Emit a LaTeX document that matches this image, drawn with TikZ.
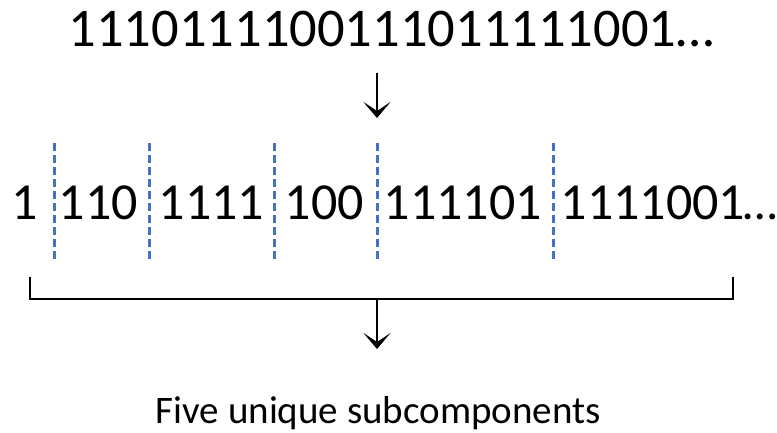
\documentclass[tikz,border=0pt]{standalone}
\usepackage{fontspec}
\setmainfont{Carlito}
\usetikzlibrary{arrows.meta}
\definecolor{dashblue}{HTML}{4472C4}
\begin{document}
\begin{tikzpicture}[x=1pt,y=-1pt,
  big/.style={inner sep=0pt,anchor=base west,font=\fontsize{52}{60}\selectfont},
  captext/.style={inner sep=0pt,anchor=base west,font=\fontsize{39}{45}\selectfont},
  sep/.style={draw=dashblue,line width=3pt,dash pattern=on 8pt off 4pt},
  brk/.style={draw=black,line width=2.5pt},
  arr/.style={draw=black,line width=2.6pt,-{Stealth[length=16pt,width=27pt,inset=9pt]}}]
\useasboundingbox (0,0) rectangle (777,432);
% top sequence
\node[big,font=\fontsize{54.5}{60}\selectfont] (seq) at (68.4,46) {1110111100111011111001…};
% middle tokens
\node[big] (t1) at (11.5,219) {1};
\node[big] (t2) at (58.5,219) {110};
\node[big] (t3) at (158.5,219) {1111};
\node[big] (t4) at (284.5,219) {100};
\node[big] (t5) at (383.5,219) {111101};
\node[big] (t6) at (560.5,219) {1111001\kern-2pt{\fontsize{49}{60}\selectfont…}};
% separators
\foreach \i/\x in {1/54,2/149,3/274,4/377,5/553}{
  \coordinate (s\i a) at (\x,143);
  \coordinate (s\i b) at (\x,262);
  \draw[sep] (s\i a) -- (s\i b);
}
% bracket
\coordinate (bl) at (30,277);
\coordinate (blc) at (30,299);
\coordinate (brc) at (733,299);
\coordinate (br) at (733,277);
\draw[brk] (bl) -- (blc) -- (brc) -- (br);
% arrows
\coordinate (a1s) at (377,73);
\coordinate (a1e) at (377,118);
\draw[arr] (a1s) -- (a1e);
\coordinate (a2s) at (377,299);
\coordinate (a2e) at (377,349);
\draw[arr] (a2s) -- (a2e);
% caption
\node[captext] (caption) at (155.6,423) {Five unique subcomponents};
\end{tikzpicture}
\end{document}
